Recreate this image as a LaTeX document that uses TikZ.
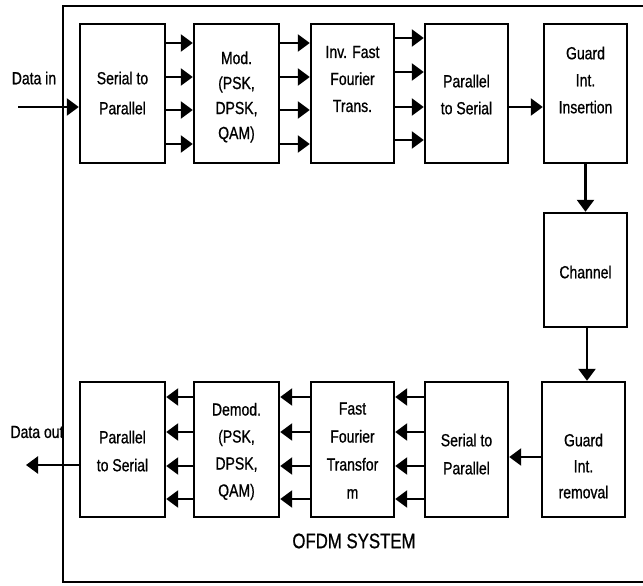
\documentclass[tikz,border=0pt]{standalone}
\usepackage{fontspec}
\setmainfont{Liberation Sans}[FakeStretch=0.8,FakeBold=0.8]
\usetikzlibrary{arrows.meta}
\begin{document}
\begin{tikzpicture}[x=1pt,y=-1pt,
  box/.style={draw, line width=2.4pt, inner sep=0pt, minimum width=83pt, minimum height=139pt},
  lowbox/.style={box, minimum height=135pt},
  txt/.style={align=center, inner sep=0pt, font=\fontsize{17.5}{27}\selectfont},
  arr/.style={line width=2.4pt, -{Triangle[length=12pt,width=17pt]}},
  frame/.style={line width=2.4pt}
  ]
\useasboundingbox (0,0) rectangle (643,586);
\draw[frame] (643,6) -- (63,6) -- (63,582) -- (643,582);

% top row
\node[box, minimum width=85pt] (s2p) at (122.5,93.5) {};
\node[box, minimum width=85pt] (mod) at (236.5,93.5) {};
\node[box] (ifft) at (352.5,93.5) {};
\node[box] (p2s) at (466.5,93.5) {};
\node[box] (gi) at (585.5,93.5) {};
% channel
\node[box, minimum height=114pt] (ch) at (585.5,270) {};
% bottom row
\node[lowbox] (gr) at (583.5,449.5) {};
\node[lowbox] (bs2p) at (466.5,449.5) {};
\node[lowbox] (fft) at (352.5,449.5) {};
\node[lowbox, minimum width=85pt] (dem) at (236.5,449.5) {};
\node[lowbox, minimum width=85pt] (bp2s) at (122.5,449.5) {};

% texts
\node[txt, font=\fontsize{17.5}{30}\selectfont] (s2pt) at (122.5,93) {Serial to\\Parallel};
\node[txt, font=\fontsize{17.5}{25}\selectfont] (modt) at (236.5,97) {Mod.\\(PSK,\\DPSK,\\QAM)};
\node[txt] (ifftt) at (352.5,79) {Inv. Fast\\Fourier\\Trans.};
\node[txt] (p2st) at (466.5,94.5) {Parallel\\to Serial};
\node[txt] (git) at (585.5,80) {Guard\\Int.\\Insertion};
\node[txt] (cht) at (585.5,272) {Channel};
\node[txt, font=\fontsize{17.5}{26}\selectfont] (grt) at (583.5,466) {Guard\\Int.\\removal};
\node[txt, font=\fontsize{17.5}{28}\selectfont] (bs2pt) at (466.5,454) {Serial to\\Parallel};
\node[txt, font=\fontsize{17.5}{28}\selectfont] (fftt) at (352.5,450.5) {Fast\\Fourier\\Transfor\\m};
\node[txt] (demt) at (236.5,451.5) {Demod.\\(PSK,\\DPSK,\\QAM)};
\node[txt, font=\fontsize{17.5}{28}\selectfont] (bp2st) at (122.5,451) {Parallel\\to Serial};

\node[txt] (dint) at (34,78) {Data in};
\node[txt] (doutt) at (37,432) {Data out};
\node[txt, font=\fontsize{21}{24}\selectfont] (sys) at (354,541) {OFDM SYSTEM};

% connectors
\coordinate (din) at (18,107);
\coordinate (dout) at (26,465);
\draw[arr] (din) -- (s2p.west |- din);
\foreach \y in {43,77,110,144} {
  \draw[arr] (s2p.east |- 0,\y) -- (mod.west |- 0,\y);
  \draw[arr] (mod.east |- 0,\y) -- (ifft.west |- 0,\y);
}
\foreach \y in {38,72,107,140} {
  \draw[arr] (ifft.east |- 0,\y) -- (p2s.west |- 0,\y);
}
\draw[arr] (p2s.east |- 0,107) -- (gi.west |- 0,107);
\draw[arr] (gi.south) -- (gi.south |- ch.north);
\draw[arr] (ch.south -| 587,0) -- (gr.north -| 587,0);
\draw[arr] (gr.west |- 0,457) -- (bs2p.east |- 0,457);
\foreach \y in {397,432,466,499} {
  \draw[arr] (bs2p.west |- 0,\y) -- (fft.east |- 0,\y);
  \draw[arr] (fft.west |- 0,\y) -- (dem.east |- 0,\y);
  \draw[arr] (dem.west |- 0,\y) -- (bp2s.east |- 0,\y);
}
\draw[arr] (bp2s.west |- dout) -- (dout);
\end{tikzpicture}
\end{document}
